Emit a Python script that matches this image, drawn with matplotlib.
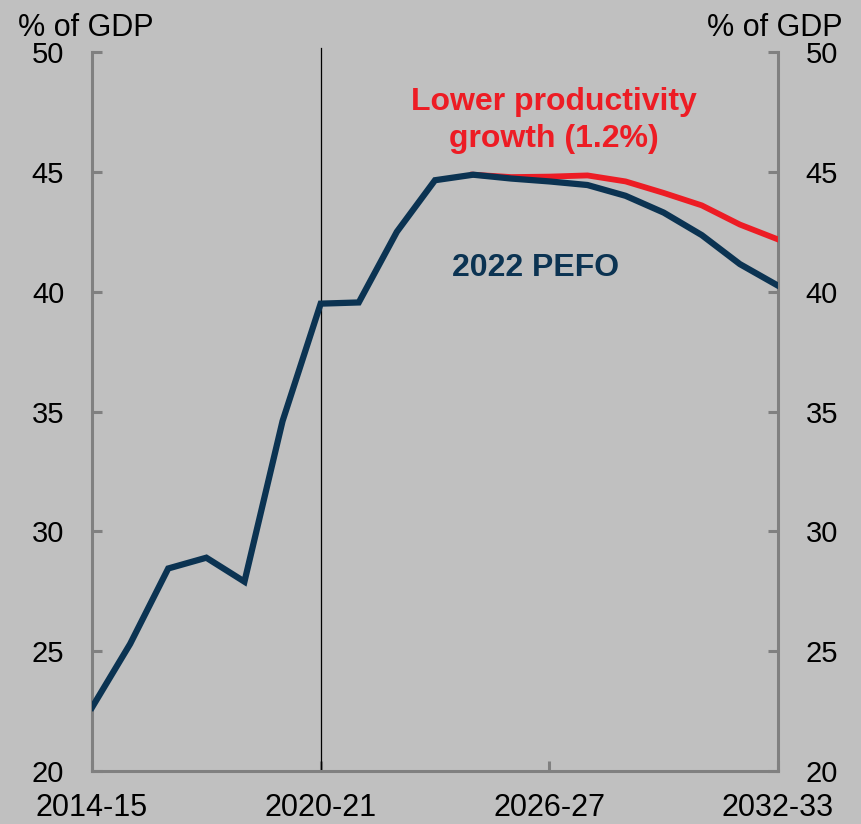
import matplotlib
matplotlib.use("Agg")
import matplotlib.pyplot as plt

plt.rcParams['font.family'] = ['Liberation Sans', 'DejaVu Sans']

years = ['2014-15', '2015-16', '2016-17', '2017-18', '2018-19', '2019-20',
         '2020-21', '2021-22', '2022-23', '2023-24', '2024-25', '2025-26',
         '2026-27', '2027-28', '2028-29', '2029-30', '2030-31', '2031-32',
         '2032-33']
pefo = [22.65, 25.3, 28.45, 28.9, 27.9, 34.6, 39.5, 39.55, 42.5, 44.65,
        44.88, 44.72, 44.6, 44.45, 44.0, 43.3, 42.36, 41.15, 40.25]
# lower productivity scenario, only differs from 2024-25 onwards
low_years = years[10:]
low_prod = [44.88, 44.78, 44.8, 44.85, 44.6, 44.12, 43.6, 42.8, 42.18]
xtick_labels = ['2014-15', '2020-21', '2026-27', '2032-33']
yticks = [20, 25, 30, 35, 40, 45, 50]

bg = '#c0c0c0'
navy = '#0b3352'
red = '#ed1c24'
grey = '#808080'

fig = plt.figure(figsize=(8.62, 8.24), dpi=100, facecolor=bg)
ax = fig.add_axes([92/862, 53/824, 686/862, 719/824], facecolor=bg)

xpos = {y: i for i, y in enumerate(years)}
ax.plot([xpos[y] for y in low_years], low_prod, color=red, lw=4.2,
        solid_joinstyle='miter', zorder=3)
ax.plot(range(len(years)), pefo, color=navy, lw=4.5,
        solid_joinstyle='miter', zorder=4)
ax.axvline(xpos['2020-21'], ymin=0, ymax=1.006, color='black', lw=0.9,
           clip_on=False, zorder=2)

ax.set_xlim(0, len(years) - 1)
ax.set_ylim(20, 50)

for s in ['left', 'right', 'bottom']:
    ax.spines[s].set_color(grey)
    ax.spines[s].set_linewidth(2.2)
ax.spines['top'].set_visible(False)

ax.set_xticks([xpos[y] for y in xtick_labels])
ax.set_xticklabels(xtick_labels, fontsize=22)
ax.set_yticks(yticks)
ax.set_yticklabels([str(v) for v in yticks], fontsize=21)
ax.tick_params(axis='y', direction='in', length=7, width=2.2, color=grey,
               left=True, right=True, labelleft=True, labelright=True, pad=20)
ax.tick_params(axis='x', direction='in', length=7, width=2.2, color=grey, pad=16)

fig.text(18/862, 1 - 13/824, '% of GDP', fontsize=22, ha='left', va='top')
fig.text(843/862, 1 - 13/824, '% of GDP', fontsize=22, ha='right', va='top')

ax.text(12.13, 47.15, 'Lower productivity\ngrowth (1.2%)',
        color=red, fontsize=23, fontweight='bold', ha='center', va='center',
        linespacing=1.32)
ax.text(11.63, 40.98, '2022 PEFO', color=navy, fontsize=23,
        fontweight='bold', ha='center', va='center')

fig.savefig('out.png', dpi=100, facecolor=bg)
